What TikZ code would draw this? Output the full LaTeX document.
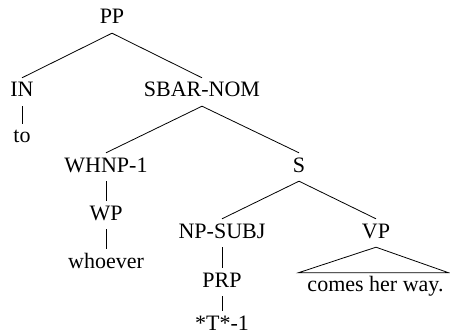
\documentclass[tikz,border=0pt]{standalone}
\usepackage{fontspec}
\setmainfont{Liberation Serif}
\begin{document}
\begin{tikzpicture}[x=1pt,y=-1pt,
  lbl/.style={inner xsep=0pt, inner ysep=4pt, text height=15pt, text depth=5pt, anchor=base, font=\fontsize{22}{26}\selectfont},
  edge/.style={line width=0.8pt}]
\useasboundingbox (0,0) rectangle (450,334);
\node[lbl] (PP) at (112,24) {PP};
\node[lbl] (IN) at (22,97) {IN};
\node[lbl] (SBAR) at (202,97) {SBAR-NOM};
\node[lbl] (to) at (22,143) {to};
\node[lbl] (WHNP) at (106,172) {WHNP-1};
\node[lbl] (S) at (299,172) {S};
\node[lbl] (WP) at (106,220) {WP};
\node[lbl] (whoever) at (106,268) {whoever};
\node[lbl] (NPSUBJ) at (222,238) {NP-SUBJ};
\node[lbl] (VP) at (376,238) {VP};
\node[lbl] (PRP) at (222,287) {PRP};
\node[lbl] (T) at (222,330) {*T*-1};
\node[lbl] (words) at (375.5,291) {comes her way.};
\draw[edge] (PP.south) -- (IN.north);
\draw[edge] (PP.south) -- (SBAR.north);
\draw[edge] (IN.south) -- (to.north);
\draw[edge] (SBAR.south) -- (WHNP.north);
\draw[edge] (SBAR.south) -- (S.north);
\draw[edge] (WHNP.south) -- (WP.north);
\draw[edge] (WP.south) -- (whoever.north);
\draw[edge] (S.south) -- (NPSUBJ.north);
\draw[edge] (S.south) -- (VP.north);
\draw[edge] (NPSUBJ.south) -- (PRP.north);
\draw[edge] (PRP.south) -- (T.north);
\draw[edge] (VP.south) -- ([xshift=-9pt,yshift=-1pt]words.north west) -- ([xshift=5pt,yshift=-1pt]words.north east) -- cycle;
\end{tikzpicture}
\end{document}
